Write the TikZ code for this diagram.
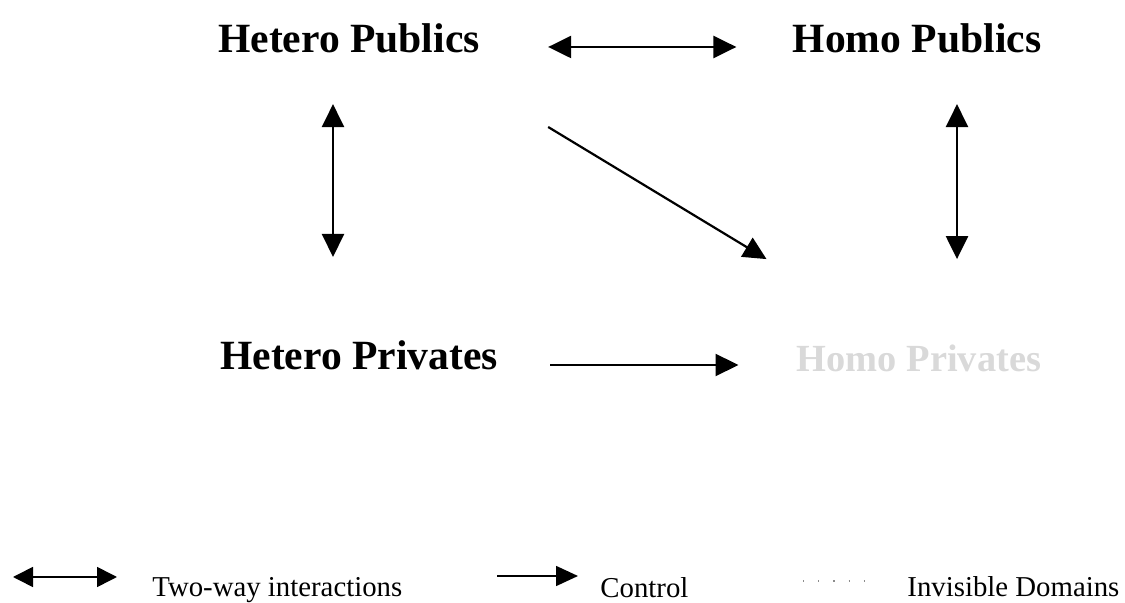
\documentclass[tikz,border=0pt]{standalone}
\usepackage{fontspec}
\setmainfont{Liberation Serif}
\usetikzlibrary{arrows.meta, positioning}

\begin{document}
\begin{tikzpicture}[
    x=0.5pt, y=-0.5pt,
    % Style definitions
    sphere/.style={inner sep=0pt, font=\fontsize{20.8}{24}\selectfont\bfseries},
    hidden/.style={sphere, font=\fontsize{19.2}{22}\selectfont\bfseries, text=black!15},
    legendtext/.style={inner sep=0pt, anchor=base west, font=\fontsize{14.4}{16}\selectfont},
    twoway/.style={{Triangle[length=11.5pt,width=11pt]}-{Triangle[length=11.5pt,width=11pt]}, line width=1.2pt},
    control/.style={-{Triangle[length=11.5pt,width=11pt]}, line width=1.1pt},
    smalltwoway/.style={{Triangle[length=10pt,width=10pt]}-{Triangle[length=10pt,width=10pt]}, line width=0.8pt},
    smallcontrol/.style={-{Triangle[length=11pt,width=10pt]}, line width=0.8pt},
    invisible/.style={black!45, line width=0.8pt, dash pattern=on 0.6pt off 7pt},
]
\useasboundingbox (0,0) rectangle (1125,603);

% Domains
\node[sphere] (hpub) at (349,38) {Hetero Publics};
\node[sphere] (hopub) at (917,38) {Homo Publics};
\node[sphere] (hpriv) at (359,355) {Hetero Privates};
\node[hidden] (hopriv) at (919,358) {Homo Privates};

% Arrows - two-way interactions
\draw[twoway] ([xshift=34pt,yshift=-4.5pt]hpub.east) -- ([xshift=-28pt,yshift=-4.5pt]hopub.west);
\draw[twoway] ([xshift=-8pt,yshift=-25.5pt]hpub.south) -- ([xshift=-13pt,yshift=41.5pt]hpriv.north);
\draw[twoway] ([xshift=20pt,yshift=-25.5pt]hopub.south) -- ([xshift=19pt,yshift=42.5pt]hopriv.north);

% Arrows - control
\draw[control] ([xshift=34pt,yshift=-44.5pt]hpub.east) -- ([xshift=-15pt,yshift=42.5pt]hopriv.north west);
\draw[control] ([xshift=26pt,yshift=-5pt]hpriv.east) -- ([xshift=-29pt,yshift=-3.5pt]hopriv.west);

% Legend
\coordinate (lg1a) at (13,577);
\coordinate (lg1b) at (117,577);
\coordinate (lg2a) at (497,576);
\coordinate (lg2b) at (578,576);
\coordinate (lg3a) at (803,581);
\coordinate (lg3b) at (878,581);
\draw[smalltwoway] (lg1a) -- (lg1b);
\node[legendtext] (twowaytxt) at (152,597) {Two-way interactions};
\draw[smallcontrol] (lg2a) -- (lg2b);
\node[legendtext] (controltxt) at (600,598) {Control};
\draw[invisible] (lg3a) -- (lg3b);
\node[legendtext] (invisibletxt) at (907,597) {Invisible Domains};

\end{tikzpicture}
\end{document}
